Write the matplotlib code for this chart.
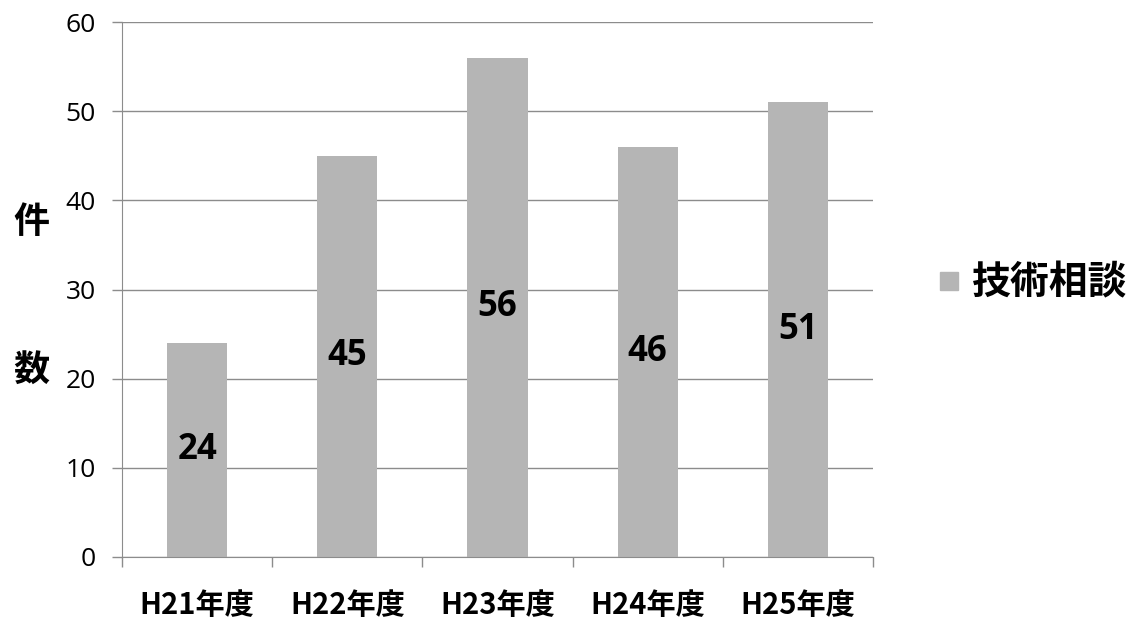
import numpy as np
import matplotlib.pyplot as plt
from matplotlib.lines import Line2D

years = ['H21年度', 'H22年度', 'H23年度', 'H24年度', 'H25年度']
counts = [24, 45, 56, 46, 51]
series_name = '技術相談'

BAR_COLOR = '#b5b5b5'
GRID_COLOR = '#8c8c8c'
JP = ['Noto Sans CJK JP', 'DejaVu Sans']

plt.rcParams['font.family'] = ['Open Sans', 'DejaVu Sans']

fig = plt.figure(figsize=(11.43, 6.21), dpi=100)
ax = fig.add_axes([122 / 1143, 1 - 557 / 621, (873 - 122) / 1143, (557 - 22) / 621])

x = np.arange(len(years))
bars = ax.bar(x, counts, width=0.4, color=BAR_COLOR, zorder=2)

for xi, v in zip(x, counts):
    ax.text(xi, v / 2, str(v), ha='center', va='center', fontsize=25,
            fontweight='bold', family=['Open Sans', 'DejaVu Sans'], zorder=3)

ax.set_xlim(-0.5, len(years) - 0.5)
ax.set_ylim(0, 60)
ax.set_yticks(range(0, 61, 10))
ax.tick_params(axis='y', labelsize=19, length=7, width=1, color=GRID_COLOR, pad=12)
ax.yaxis.grid(True, color=GRID_COLOR, linewidth=1, zorder=0)

# category labels centred, tick marks on the boundaries
ax.set_xticks(x)
ax.set_xticklabels(years, fontsize=21, fontweight='bold', family=JP)
ax.tick_params(axis='x', length=0, pad=24)
ax.set_xticks(np.arange(-0.5, len(years)), minor=True)
ax.tick_params(axis='x', which='minor', length=7, width=1, color=GRID_COLOR)

for side in ['top', 'right']:
    ax.spines[side].set_visible(False)
ax.spines['left'].set_color(GRID_COLOR)
ax.spines['bottom'].set_color(GRID_COLOR)

fig.text(31 / 1143, 1 - 222 / 621, '件', fontsize=26, fontweight='bold',
         family=JP, ha='center', va='center')
fig.text(31 / 1143, 1 - 370 / 621, '数', fontsize=26, fontweight='bold',
         family=JP, ha='center', va='center')

handle = Line2D([], [], marker='s', linestyle='none', color=BAR_COLOR, markersize=13)
fig.legend([handle], [series_name], loc='center left',
           bbox_to_anchor=(896 / 1143, 1 - 283 / 621), frameon=False,
           handletextpad=0.15, handlelength=0.9,
           prop={'family': JP, 'size': 28, 'weight': 'bold'})

fig.savefig('out.png', dpi=100)
